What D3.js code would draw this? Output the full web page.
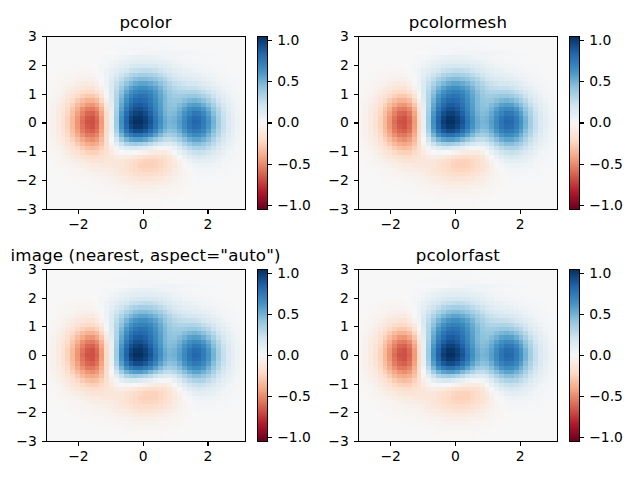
<!DOCTYPE html>
<html>
<head>
<meta charset="utf-8">
<script src="https://cdn.jsdelivr.net/npm/d3@7/dist/d3.min.js"></script>
<style>
  html, body { margin: 0; padding: 0; background: #fff; }
  svg { display: block; }
  text { font-family: "DejaVu Sans", sans-serif; fill: #000; }
</style>
</head>
<body>
<svg id="chart" width="640" height="480"></svg>
<script>
// Panel titles, left to right and top to bottom.
const panelTitles = ["pcolor", "pcolormesh", "image (nearest, aspect=\"auto\")", "pcolorfast"];

const xTicks = [-2, 0, 2];
const yTicks = [-3, -2, -1, 0, 1, 2, 3];
const barTicks = [-1, -0.5, 0, 0.5, 1];

// Diverging palette stops, low to high.
const paletteStops = ["#67001f", "#b2182b", "#d6604d", "#f4a582", "#fddbc7", "#f7f7f7",
                      "#d1e5f0", "#92c5de", "#4393c3", "#2166ac", "#053061"];

// Left edge of each column and the sample height of each row.
const columnX = [-3, -2.85, -2.7, -2.55, -2.4, -2.25, -2.1, -1.95, -1.8, -1.65, -1.5, -1.35, -1.2, -1.05,
                 -0.9, -0.75, -0.6, -0.45, -0.3, -0.15, 0, 0.15, 0.3, 0.45, 0.6, 0.75, 0.9, 1.05, 1.2,
                 1.35, 1.5, 1.65, 1.8, 1.95, 2.1, 2.25, 2.4, 2.55, 2.7, 2.85, 3];
const rowY = [-3, -2.85, -2.7, -2.55, -2.4, -2.25, -2.1, -1.95, -1.8, -1.65, -1.5, -1.35, -1.2, -1.05,
              -0.9, -0.75, -0.6, -0.45, -0.3, -0.15, 0, 0.15, 0.3, 0.45, 0.6, 0.75, 0.9, 1.05, 1.2,
              1.35, 1.5, 1.65, 1.8, 1.95, 2.1, 2.25, 2.4, 2.55, 2.7, 2.85, 3];
const columnWidth = 0.15;
const rowHeight = 0.15;
const rowOffset = 0.05;

// Cell values in hundredths, one row per entry of rowY, one value per entry of columnX.
const cellValues = [
[0,0,0,0,0,0,0,0,0,0,0,0,0,0,0,0,0,0,0,0,0,0,0,0,0,0,0,0,0,0,0,0,0,0,0,0,0,0,0,0,0],
[0,0,0,0,0,0,0,0,0,0,0,0,0,0,0,0,0,-1,-1,-1,-1,-1,-1,-1,0,0,0,0,0,0,0,0,0,0,0,0,0,0,0,0,0],
[0,0,0,0,0,0,0,0,0,0,0,0,0,0,-1,-1,-1,-1,-1,-1,-1,-1,-1,-1,-1,-1,-1,0,0,0,0,0,0,0,0,0,0,0,0,0,0],
[0,0,0,0,0,0,0,0,0,0,0,0,-1,-1,-1,-1,-2,-2,-2,-2,-2,-2,-2,-2,-2,-1,-1,-1,0,0,0,0,0,0,0,0,0,0,0,0,0],
[0,0,0,0,0,0,0,0,0,-1,-1,-1,-1,-1,-2,-2,-3,-3,-4,-4,-4,-4,-4,-3,-3,-2,-2,-1,-1,0,0,0,0,0,0,0,0,0,0,0,0],
[0,0,0,0,0,0,0,-1,-1,-1,-1,-1,-2,-2,-3,-4,-4,-5,-6,-6,-7,-6,-6,-5,-5,-4,-3,-2,-1,-1,0,0,0,0,0,0,0,0,0,0,0],
[0,0,0,0,0,-1,-1,-1,-1,-2,-2,-2,-3,-4,-5,-6,-7,-8,-9,-10,-10,-10,-9,-8,-7,-6,-4,-3,-2,-1,0,0,0,1,0,0,0,0,0,0,0],
[0,0,0,0,-1,-1,-1,-2,-2,-3,-3,-4,-4,-5,-7,-8,-10,-11,-13,-14,-14,-14,-13,-12,-10,-8,-6,-4,-2,-1,0,1,1,1,1,1,1,0,0,0,0],
[0,0,0,-1,-1,-2,-2,-3,-3,-4,-5,-5,-6,-7,-9,-11,-13,-15,-17,-18,-19,-19,-18,-16,-14,-11,-8,-5,-3,-1,1,2,2,2,2,1,1,1,0,0,0],
[0,0,-1,-1,-2,-2,-3,-4,-6,-6,-7,-8,-8,-9,-11,-13,-15,-18,-20,-22,-23,-23,-22,-20,-17,-14,-10,-6,-2,0,2,3,4,3,3,2,2,1,1,0,0],
[0,-1,-1,-2,-3,-4,-5,-7,-8,-10,-10,-11,-11,-11,-12,-13,-16,-19,-21,-24,-25,-25,-24,-22,-19,-15,-11,-6,-1,2,5,6,6,6,5,4,2,2,1,1,0],
[-1,-1,-2,-3,-4,-6,-8,-10,-12,-14,-14,-14,-13,-12,-11,-12,-14,-17,-19,-22,-24,-24,-24,-22,-19,-15,-9,-4,2,6,9,11,10,9,8,6,4,3,2,1,0],
[-1,-1,-2,-4,-6,-9,-12,-15,-17,-19,-19,-17,-15,-12,-9,-8,-8,-10,-13,-15,-17,-19,-19,-18,-16,-12,-6,0,7,12,15,17,16,14,11,8,6,4,2,1,1],
[-1,-2,-3,-5,-8,-12,-16,-20,-24,-25,-25,-21,-16,-10,-4,0,2,1,0,-3,-5,-8,-9,-10,-9,-6,0,7,14,20,23,25,23,20,16,12,8,5,3,2,1],
[-1,-2,-4,-7,-11,-16,-21,-27,-31,-33,-31,-25,-17,-7,3,10,15,17,17,15,12,9,5,2,2,3,8,15,23,29,33,34,32,27,22,16,11,7,4,2,1],
[-2,-3,-6,-9,-14,-20,-27,-34,-39,-41,-38,-30,-18,-3,11,23,32,36,38,36,33,28,22,17,14,14,18,25,33,40,45,45,41,35,28,21,14,9,6,3,2],
[-2,-4,-7,-11,-17,-25,-33,-41,-47,-49,-45,-34,-18,1,20,37,49,56,59,59,55,48,41,33,27,26,29,36,44,52,56,56,51,44,34,25,17,11,7,4,2],
[-2,-5,-8,-13,-20,-29,-39,-48,-55,-56,-51,-38,-19,4,28,49,65,74,79,79,74,67,57,47,39,36,38,45,54,62,67,66,61,51,40,30,20,13,8,5,2],
[-3,-5,-9,-14,-22,-32,-43,-54,-61,-63,-57,-42,-20,7,34,58,76,88,94,94,89,80,69,57,48,43,45,52,62,71,75,74,68,58,45,33,23,15,9,5,3],
[-3,-5,-9,-15,-24,-34,-46,-57,-65,-67,-60,-44,-21,8,37,63,83,96,102,102,97,88,76,63,53,48,49,57,67,76,81,80,73,62,49,36,24,16,10,6,3],
[-3,-6,-10,-16,-24,-35,-47,-59,-67,-68,-62,-45,-21,8,38,65,85,99,105,105,100,91,78,65,54,49,51,58,68,78,83,82,74,63,50,36,25,16,10,6,3],
[-3,-5,-9,-15,-24,-34,-46,-57,-65,-67,-60,-44,-20,8,38,64,84,97,103,103,98,89,76,64,53,48,50,57,67,76,81,80,73,62,49,36,24,16,10,6,3],
[-3,-5,-9,-14,-22,-32,-43,-53,-61,-62,-56,-41,-19,8,36,61,80,92,98,99,94,85,73,61,51,46,47,54,63,71,76,75,68,58,45,33,23,15,9,5,3],
[-2,-4,-8,-13,-20,-29,-38,-48,-54,-55,-50,-36,-15,9,35,57,75,86,92,93,89,81,70,59,49,44,45,50,58,65,68,67,61,52,41,30,20,13,8,5,2],
[-2,-4,-7,-11,-17,-25,-33,-40,-46,-47,-41,-29,-11,11,33,54,70,81,87,88,85,78,68,58,48,43,42,46,51,57,59,58,52,44,35,25,17,11,7,4,2],
[-2,-3,-5,-9,-14,-20,-27,-33,-37,-37,-33,-22,-6,13,33,51,65,76,82,83,81,75,66,57,48,42,40,41,45,48,50,48,43,36,29,21,14,9,6,3,2],
[-1,-2,-4,-7,-11,-15,-21,-25,-28,-28,-24,-15,-2,14,31,47,61,70,76,79,77,72,64,55,47,40,37,37,38,40,40,38,34,29,22,16,11,7,4,3,1],
[-1,-2,-3,-5,-8,-11,-15,-19,-21,-20,-16,-9,2,16,30,43,55,64,70,72,72,68,61,53,45,38,34,32,32,32,32,30,26,22,17,12,8,5,3,2,1],
[-1,-1,-2,-4,-6,-8,-11,-13,-14,-14,-10,-4,5,16,27,39,49,57,62,65,65,61,56,49,41,35,30,27,26,25,24,22,19,16,12,9,6,4,2,1,1],
[-1,-1,-2,-3,-4,-5,-7,-9,-9,-8,-6,-1,6,15,24,33,42,48,53,56,56,53,49,43,37,31,26,23,21,19,18,16,14,11,8,6,4,3,2,1,1],
[0,-1,-1,-2,-2,-3,-5,-5,-6,-5,-3,1,6,13,20,27,34,39,44,46,46,44,41,36,31,25,21,18,16,14,12,11,9,7,6,4,3,2,1,1,0],
[0,0,-1,-1,-2,-2,-3,-3,-3,-3,-1,2,6,10,16,21,26,31,34,36,36,35,32,28,24,20,16,14,11,10,9,7,6,5,4,3,2,1,1,0,0],
[0,0,0,-1,-1,-1,-2,-2,-2,-1,0,2,5,8,12,16,19,23,25,26,27,26,24,21,18,15,12,10,8,7,6,5,4,3,2,2,1,1,0,0,0],
[0,0,0,0,0,-1,-1,-1,-1,0,0,2,3,6,8,11,13,16,17,19,19,18,17,15,13,11,8,7,5,4,4,3,2,2,1,1,1,0,0,0,0],
[0,0,0,0,0,0,0,0,0,0,0,1,2,4,5,7,9,10,12,12,12,12,11,10,9,7,6,4,3,3,2,2,1,1,1,1,0,0,0,0,0],
[0,0,0,0,0,0,0,0,0,0,0,1,2,2,3,5,6,7,7,8,8,8,7,6,5,4,4,3,2,2,1,1,1,1,0,0,0,0,0,0,0],
[0,0,0,0,0,0,0,0,0,0,0,0,0,0,0,1,1,1,2,3,3,4,4,5,5,5,4,4,3,3,2,2,1,1,1,1,0,0,0,0,0],
[0,0,0,0,0,0,0,0,0,0,0,0,1,1,1,2,2,2,2,3,3,3,2,2,2,1,1,1,1,1,0,0,0,0,0,0,0,0,0,0,0],
[0,0,0,0,0,0,0,0,0,0,0,0,0,0,1,1,1,1,1,1,1,1,1,1,1,1,1,0,0,0,0,0,0,0,0,0,0,0,0,0,0],
[0,0,0,0,0,0,0,0,0,0,0,0,0,0,0,0,0,1,1,1,1,1,1,1,0,0,0,0,0,0,0,0,0,0,0,0,0,0,0,0,0],
[0,0,0,0,0,0,0,0,0,0,0,0,0,0,0,0,0,0,0,0,0,0,0,0,0,0,0,0,0,0,0,0,0,0,0,0,0,0,0,0,0]
];

const limit = d3.max(cellValues.flat(), v => Math.abs(v)) / 100;

const colour = d3.scaleLinear()
  .domain(paletteStops.map((_, i) => -limit + 2 * limit * i / (paletteStops.length - 1)))
  .range(paletteStops)
  .interpolate(d3.interpolateRgb);

// Plot frames in pixels. The scale range carries sub-pixel placement, the frame sits on the pixel grid.
const columns = [{ left: 46, right: 245.2, frameLeft: 46.5, frameRight: 245.5, barLeft: 257.5, barRight: 267.5 },
                 { left: 358.3, right: 557.5, frameLeft: 358.5, frameRight: 557.5, barLeft: 569.5, barRight: 579.5 }];
const rows = [{ top: 36.5, bottom: 209.5 }, { top: 269.5, bottom: 441.5 }];

const svg = d3.select("#chart");
const tickLength = 4.86;
const fontSize = 13.89;
const lineWidth = 1.11;

function styleAxis(g) {
  g.selectAll("text").style("font-size", fontSize + "px").style("font-family", "'DejaVu Sans'");
  g.selectAll("line").attr("stroke", "#000").attr("stroke-width", lineWidth).attr("shape-rendering", "crispEdges");
  g.select(".domain").remove();
}

panelTitles.forEach((title, index) => {
  const col = columns[index % 2];
  const row = rows[Math.floor(index / 2)];
  const x = d3.scaleLinear().domain([-3, 3.15]).range([col.left, col.right]);
  const y = d3.scaleLinear().domain([-3, 3]).range([row.bottom, row.top]);
  const panel = svg.append("g");

  const clipId = "clip" + index;
  svg.append("clipPath").attr("id", clipId).append("rect")
    .attr("x", col.frameLeft).attr("y", row.top)
    .attr("width", col.frameRight - col.frameLeft).attr("height", row.bottom - row.top);

  // Heat map cells.
  const cells = panel.append("g").attr("clip-path", `url(#${clipId})`).attr("shape-rendering", "crispEdges");
  rowY.forEach((yValue, r) => {
    cells.selectAll(null)
      .data(cellValues[r].map((value, c) => ({ value, c })))
      .join("rect")
      .attr("x", d => x(columnX[d.c]))
      .attr("width", d => x(columnX[d.c] + columnWidth) - x(columnX[d.c]))
      .attr("y", y(yValue - rowOffset + rowHeight))
      .attr("height", y(yValue - rowOffset) - y(yValue - rowOffset + rowHeight))
      .attr("fill", d => colour(d.value / 100));
  });

  // Frame.
  panel.append("rect")
    .attr("x", col.frameLeft).attr("y", row.top)
    .attr("width", col.frameRight - col.frameLeft).attr("height", row.bottom - row.top)
    .attr("fill", "none").attr("stroke", "#000").attr("stroke-width", lineWidth).attr("shape-rendering", "crispEdges");

  // Axes.
  panel.append("g")
    .attr("transform", `translate(0,${row.bottom})`)
    .call(d3.axisBottom(x).offset(0).tickValues(xTicks).tickSize(tickLength).tickPadding(4.86).tickFormat(d3.format("d")))
    .call(styleAxis);
  panel.append("g")
    .attr("transform", `translate(${col.frameLeft},0)`)
    .call(d3.axisLeft(y).offset(0).tickValues(yTicks).tickSize(tickLength).tickPadding(4.86).tickFormat(d3.format("d")))
    .call(styleAxis);

  panel.append("text")
    .attr("x", (col.left + col.right) / 2)
    .attr("y", row.top - 8.33)
    .attr("text-anchor", "middle")
    .style("font-size", "16.67px")
    .style("letter-spacing", "0.14px")
    .text(title);

  // Colour bar.
  const barY = d3.scaleLinear().domain([-limit, limit]).range([row.bottom, row.top]);
  const levels = d3.range(256);
  const levelValue = i => -limit + 2 * limit * i / 256;
  panel.append("g").attr("shape-rendering", "crispEdges")
    .selectAll("rect").data(levels).join("rect")
    .attr("x", col.barLeft)
    .attr("width", col.barRight - col.barLeft)
    .attr("y", i => barY(levelValue(i + 1)))
    .attr("height", i => barY(levelValue(i)) - barY(levelValue(i + 1)))
    .attr("fill", i => colour(levelValue(i + 0.5)));
  panel.append("rect")
    .attr("x", col.barLeft).attr("y", row.top)
    .attr("width", col.barRight - col.barLeft).attr("height", row.bottom - row.top)
    .attr("fill", "none").attr("stroke", "#000").attr("stroke-width", lineWidth).attr("shape-rendering", "crispEdges");
  panel.append("g")
    .attr("transform", `translate(${col.barRight},0)`)
    .call(d3.axisRight(barY).offset(0).tickValues(barTicks).tickSize(tickLength).tickPadding(4.86).tickFormat(d3.format(".1f")))
    .call(styleAxis);
});
</script>
</body>
</html>
